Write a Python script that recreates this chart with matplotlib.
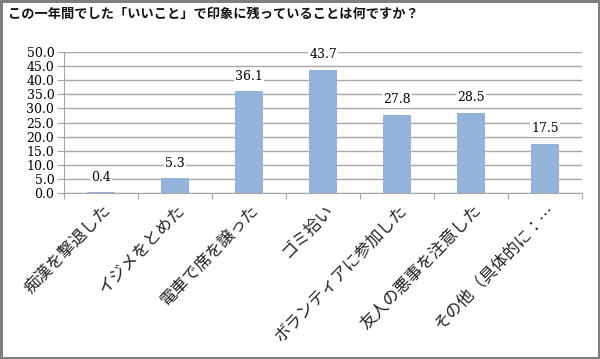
import matplotlib
matplotlib.use("Agg")
import matplotlib.pyplot as plt

categories = ["痴漢を撃退した", "イジメをとめた", "電車で席を譲った", "ゴミ拾い",
              "ボランティアに参加した", "友人の悪事を注意した", "その他（具体的に：…"]
values = [0.4, 5.3, 36.1, 43.7, 27.8, 28.5, 17.5]
yticks = [0, 5, 10, 15, 20, 25, 30, 35, 40, 45, 50]
title = "この一年間でした「いいこと」で印象に残っていることは何ですか？"

jp = ["Noto Sans CJK JP", "DejaVu Sans"]
num_font = "DejaVu Serif"

fig = plt.figure(figsize=(6.0, 3.59), dpi=100)
fig.patch.set_facecolor("white")
fig.patch.set_edgecolor("#7f7f7f")
fig.patch.set_linewidth(2.5)

ax = fig.add_axes([64/600, 1-193/359, (582-64)/600, (193-52)/359])
x = list(range(len(categories)))
bars = ax.bar(x, values, width=0.39, color="#93B3DB", zorder=3)
ax.set_xlim(-0.5, len(categories) - 0.5)
ax.set_ylim(0, 50)
ax.set_yticks(yticks)
ax.set_yticklabels([f"{v:.1f}" for v in yticks], fontfamily=num_font, fontsize=9)
ax.grid(axis="y", color="#a6a6a6", linewidth=1.0, zorder=0)
ax.tick_params(axis="y", length=5, color="#a6a6a6", pad=2)
ax.set_xticks([i + 0.5 for i in range(-1, len(categories))], minor=False)
ax.set_xticklabels([])
ax.tick_params(axis="x", length=4, color="#a6a6a6")
for s in ["top", "right"]:
    ax.spines[s].set_visible(False)
for s in ["left", "bottom"]:
    ax.spines[s].set_color("#a6a6a6")

for i, (c, v) in enumerate(zip(categories, values)):
    ax.text(i + 0.1, -5.0, c, rotation=46, rotation_mode="anchor", ha="right", va="center",
            fontsize=12, family=jp, color="#222222")
    ax.annotate(f"{v:.1f}", (i, v), xytext=(0, 6), textcoords="offset points",
                ha="center", va="bottom", fontfamily=num_font, fontsize=9,
                bbox=dict(boxstyle="square,pad=0.1", fc="white", ec="none"), zorder=4)

fig.text(8/600, 1-14/359, title, fontsize=9.5, fontweight="bold", family=jp,
         ha="left", va="center", color="#111111")

fig.savefig("out.png", dpi=100)
